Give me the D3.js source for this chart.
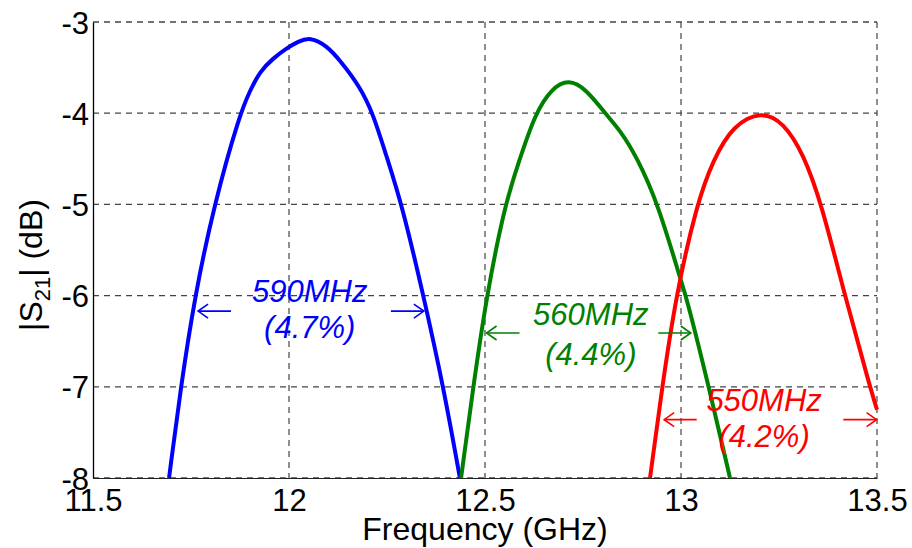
<!DOCTYPE html>
<html>
<head>
<meta charset="utf-8">
<script src="https://cdn.jsdelivr.net/npm/d3@7"></script>
<style>
  html, body { margin: 0; padding: 0; background: #fff; }
  svg { display: block; font-family: "Liberation Sans", Arial, sans-serif; }
</style>
</head>
<body>
<svg id="chart" width="912" height="548"></svg>
<script>
// ---- data ----
const xTicks = [11.5, 12, 12.5, 13, 13.5];
const yTicks = [-8, -7, -6, -5, -4, -3];
const xTickLabels = ["11.5", "12", "12.5", "13", "13.5"];
const yTickLabels = ["-8", "-7", "-6", "-5", "-4", "-3"];

const blueFreq = [11.694, 11.724, 11.760, 11.809, 11.875, 11.901, 11.926, 11.959, 11.995, 12.023, 12.054, 12.096, 12.130, 12.181, 12.214, 12.247, 12.288, 12.343, 12.394, 12.436];
const blueDb   = [-8, -7, -6, -5, -4.0, -3.75, -3.54, -3.40, -3.285, -3.215, -3.165, -3.26, -3.42, -3.71, -4.0, -4.45, -5, -6, -7, -8];

const greenFreq = [12.439, 12.470, 12.504, 12.551, 12.585, 12.628, 12.670, 12.713, 12.759, 12.806, 12.844, 12.887, 12.942, 12.999, 13.013, 13.071, 13.125];
const greenDb   = [-8, -7, -6, -5, -4.55, -4.0, -3.73, -3.625, -3.74, -4.0, -4.184, -4.477, -5, -5.83, -6, -7, -8];

const redFreq = [12.921, 12.952, 12.987, 13.040, 13.082, 13.133, 13.206, 13.261, 13.312, 13.359, 13.418, 13.482, 13.500];
const redDb   = [-8, -7, -6, -5, -4.51, -4.13, -3.975, -4.10, -4.44, -5, -6, -7, -7.25];

const seriesColors = ["#0000ff", "#008000", "#ff0000"];

// bandwidth annotations
const bwLabels  = ["590MHz", "560MHz", "550MHz"];
const pctLabels = ["(4.7%)", "(4.4%)", "(4.2%)"];
const labelFreq = [12.053, 12.77, 13.212];
const labelDb1  = [-6.068, -6.32, -7.27];
const labelDb2  = [-6.463, -6.76, -7.66];
const arrowDb   = [-6.17, -6.41, -7.36];
const arrowLeftTip   = [11.768, 12.504, 12.957];
const arrowLeftTail  = [11.852, 12.588, 13.040];
const arrowRightTail = [12.260, 12.942, 13.414];
const arrowRightTip  = [12.344, 13.025, 13.499];

// ---- layout ----
const svg = d3.select("#chart");
const L = 93, R = 877, T = 22, B = 478;
const x = d3.scaleLinear().domain([11.5, 13.5]).range([L, R]);
const y = d3.scaleLinear().domain([-8, -3]).range([B, T]);

const FS = 31;

// grid
const grid = svg.append("g");
grid.selectAll("line.v").data(xTicks.slice(1)).enter().append("line")
  .attr("x1", d => x(d)).attr("x2", d => x(d)).attr("y1", T).attr("y2", B)
  .attr("stroke", "#333").attr("stroke-width", 1.1).attr("stroke-dasharray", "6,5");
grid.selectAll("line.h").data(yTicks).enter().append("line")
  .attr("x1", L).attr("x2", R).attr("y1", d => y(d)).attr("y2", d => y(d))
  .attr("stroke", "#444").attr("stroke-width", 1.3).attr("stroke-dasharray", "6,5");

// axes
const xAxis = d3.axisBottom(x).tickValues(xTicks).tickSize(0).tickPadding(9)
  .tickFormat((d, i) => xTickLabels[i]);
const gx = svg.append("g").attr("transform", `translate(0,${B})`).call(xAxis);
gx.select(".domain").attr("stroke", "#222").attr("stroke-width", 1.2);
gx.selectAll("text").attr("font-size", FS).attr("fill", "#000")
  .attr("font-family", "Liberation Sans, Arial, sans-serif").attr("dy", "0.76em");

const yAxis = d3.axisLeft(y).tickValues(yTicks).tickSize(0).tickPadding(4)
  .tickFormat((d, i) => yTickLabels[i]);
const gy = svg.append("g").attr("transform", `translate(${L},0)`).call(yAxis);
gy.select(".domain").attr("stroke", "#000").attr("stroke-width", 1.3);
gy.selectAll("text").attr("font-size", FS).attr("fill", "#000")
  .attr("font-family", "Liberation Sans, Arial, sans-serif").attr("dy", "0.36em");

// curves
const line = d3.line().x(d => x(d[0])).y(d => y(d[1])).curve(d3.curveBasis);
const series = [
  d3.zip(blueFreq, blueDb),
  d3.zip(greenFreq, greenDb),
  d3.zip(redFreq, redDb)
];
svg.append("defs").append("clipPath").attr("id", "clip")
  .append("rect").attr("x", L).attr("y", T - 5).attr("width", R - L + 3).attr("height", B - T + 5);
const gc = svg.append("g").attr("clip-path", "url(#clip)");
series.forEach((s, i) => {
  gc.append("path").attr("d", line(s)).attr("fill", "none")
    .attr("stroke", seriesColors[i]).attr("stroke-width", 4)
    .attr("stroke-linejoin", "round");
});

// annotations
function arrow(g, x0, x1, yy, color) {
  const dir = Math.sign(x1 - x0);
  g.append("line").attr("x1", x0).attr("x2", x1).attr("y1", yy).attr("y2", yy)
    .attr("stroke", color).attr("stroke-width", 1.6);
  g.append("path")
    .attr("d", `M${x1 - dir * 10},${yy - 7} L${x1},${yy} L${x1 - dir * 10},${yy + 7}`)
    .attr("fill", "none").attr("stroke", color).attr("stroke-width", 1.6);
}
const ga = svg.append("g");
bwLabels.forEach((lab, i) => {
  const c = seriesColors[i];
  ga.append("text").attr("x", x(labelFreq[i])).attr("y", y(labelDb1[i]))
    .attr("text-anchor", "middle").attr("font-size", 31).attr("font-style", "italic")
    .attr("fill", c).text(lab);
  ga.append("text").attr("x", x(labelFreq[i])).attr("y", y(labelDb2[i]))
    .attr("text-anchor", "middle").attr("font-size", 31).attr("font-style", "italic")
    .attr("fill", c).text(pctLabels[i]);
  arrow(ga, x(arrowLeftTail[i]), x(arrowLeftTip[i]), y(arrowDb[i]), c);
  arrow(ga, x(arrowRightTail[i]), x(arrowRightTip[i]), y(arrowDb[i]), c);
});

// axis titles
svg.append("text").attr("x", (L + R) / 2).attr("y", 540).attr("text-anchor", "middle")
  .attr("font-size", 32).attr("fill", "#000").text("Frequency (GHz)");

const yl = svg.append("text").attr("transform", `translate(42,265) rotate(-90)`)
  .attr("text-anchor", "middle").attr("font-size", 32).attr("fill", "#000");
yl.append("tspan").text("|S");
yl.append("tspan").attr("font-size", 22).attr("dy", 8).text("21");
yl.append("tspan").attr("dy", -8).text("| (dB)");
</script>
</body>
</html>
